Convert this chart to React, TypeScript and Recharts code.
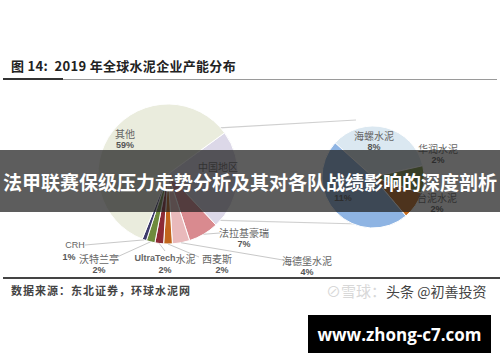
import { PieChart, Pie, Cell } from "recharts";

// 2019 global cement capacity share (%)
const LEFT_NAMES = ["中国地区", "法拉基豪瑞", "海德堡水泥", "西麦斯", "UltraTech水泥", "沃特兰亭", "CRH", "其他"];
const LEFT_VALUES = [23, 7, 4, 2, 2, 2, 1, 59];
const RIGHT_NAMES = ["海螺水泥", "华润水泥", "台泥水泥", "中国建材"];
const RIGHT_VALUES = [8, 2, 2, 11];

const LEFT_COLORS = ["#dcd8e8", "#d98a8f", "#e9b9bb", "#c2651c", "#8c2b36", "#6e8b3d", "#3d3a6b", "#eaecdd"];
const RIGHT_COLORS = ["#dbe8f1", "#76923c", "#c46a1c", "#8eb4e3"];

const W = 500;
const H = 362;
const L = { cx: 163, cy: 169, r: 70, start: 36 };
const R = { cx: 368, cy: 172, r: 51, start: 138 };

const GRAY = "#666";
const CJK = "'Noto Sans CJK SC', sans-serif";
const LAT = "'Liberation Sans', Arial, sans-serif";

// label placement (layout only). Texts hidden under the banner in the
// reference (name of the 11% slice, the 23% value) are left out.
type Place = {
  x: number;
  y: number;
  line?: [number, number];
  pctDx?: number;
  noName?: boolean;
  noPct?: boolean;
};
const PLACE: Record<string, Place> = {
  其他: { x: 125, y: 133 },
  中国地区: { x: 218, y: 166, noPct: true },
  法拉基豪瑞: { x: 244, y: 232, line: [220, 233] },
  海德堡水泥: { x: 307, y: 260, line: [283, 260] },
  西麦斯: { x: 217, y: 258, line: [199, 257], pctDx: 5 },
  UltraTech水泥: { x: 165, y: 258, line: [165, 251] },
  沃特兰亭: { x: 99, y: 258, line: [117, 257] },
  CRH: { x: 75, y: 245, line: [85, 245], pctDx: -6 },
  海螺水泥: { x: 374, y: 135 },
  华润水泥: { x: 438, y: 148 },
  台泥水泥: { x: 437, y: 197 },
  中国建材: { x: 343, y: 186, noName: true },
};

const RAD = Math.PI / 180;

function makeLabel(names: string[]) {
  return (p: any) => {
    const name = names[p.index];
    const pl = PLACE[name];
    if (!pl) return null;
    const edge = {
      x: p.cx + p.outerRadius * Math.cos(-p.midAngle * RAD),
      y: p.cy + p.outerRadius * Math.sin(-p.midAngle * RAD),
    };
    const isUltra = name.startsWith("Ultra");
    return (
      <g key={`lbl-${name}`}>
        {pl.line ? (
          <line x1={edge.x} y1={edge.y} x2={pl.line[0]} y2={pl.line[1]} stroke="#c8c8c8" strokeWidth={1} />
        ) : null}
        {pl.noName ? null : (
          <text
            x={pl.x}
            y={pl.y}
            textAnchor="middle"
            dominantBaseline="central"
            fontFamily={isUltra || name === "CRH" ? LAT : CJK}
            fontSize={name === "CRH" ? 9 : 10}
            fill={GRAY}
          >
            {isUltra ? (
              <>
                <tspan fontWeight={700} fontSize={9}>UltraTech</tspan>
                <tspan fontFamily={CJK}>水泥</tspan>
              </>
            ) : (
              name
            )}
          </text>
        )}
        {pl.noPct ? null : (
          <text
            x={pl.x + (pl.pctDx ?? 0)}
            y={pl.y + 12}
            textAnchor="middle"
            dominantBaseline="central"
            fontFamily={LAT}
            fontWeight={700}
            fontSize={9}
            fill="#555"
          >
            {`${p.value}%`}
          </text>
        )}
      </g>
    );
  };
}

const leftData = LEFT_NAMES.map((name, i) => ({ name, value: LEFT_VALUES[i] }));
const rightData = RIGHT_NAMES.map((name, i) => ({ name, value: RIGHT_VALUES[i] }));

function Connectors() {
  const total = LEFT_VALUES.reduce((a, b) => a + b, 0);
  const a0 = L.start;
  const a1 = L.start - (LEFT_VALUES[0] / total) * 360;
  const pt = (a: number) => ({ x: L.cx + L.r * Math.cos(a * RAD), y: L.cy - L.r * Math.sin(a * RAD) });
  const p0 = pt(a0);
  const p1 = pt(a1);
  return (
    <svg width={W} height={H} style={{ position: "absolute", left: 0, top: 0 }}>
      <line x1={p0.x} y1={p0.y} x2={R.cx - 12} y2={R.cy - R.r - 1} stroke="#d0d0d0" strokeWidth={1.2} />
      <line x1={p1.x} y1={p1.y} x2={R.cx - 8} y2={R.cy + R.r + 1} stroke="#d0d0d0" strokeWidth={1.2} />
    </svg>
  );
}

export default function App() {
  return (
    <div style={{ position: "fixed", left: 0, top: 0, width: W, height: H, background: "#fff", overflow: "hidden" }}>
      {/* title */}
      <div
        style={{
          position: "absolute",
          left: 11,
          top: 56,
          fontFamily: CJK,
          fontWeight: 700,
          fontSize: 13,
          color: "#222",
          whiteSpace: "nowrap",
          letterSpacing: 0.3,
        }}
      >
        图 14:&nbsp; 2019 年全球水泥企业产能分布
      </div>
      <div style={{ position: "absolute", left: 3, top: 79, width: 494, height: 1, background: "#9a9a9a" }} />
      <div style={{ position: "absolute", left: 3, top: 78, width: 60, height: 2, background: "#333" }} />

      <Connectors />

      <div style={{ position: "absolute", left: 0, top: 0 }}>
        <PieChart width={W} height={H}>
          <Pie
            data={leftData}
            dataKey="value"
            nameKey="name"
            cx={L.cx}
            cy={L.cy}
            outerRadius={L.r}
            startAngle={L.start}
            endAngle={L.start - 360}
            stroke="#fff"
            strokeWidth={1}
            label={makeLabel(LEFT_NAMES)}
            labelLine={false}
            isAnimationActive={false}
          >
            {leftData.map((d, i) => (
              <Cell key={d.name} fill={LEFT_COLORS[i]} />
            ))}
          </Pie>
          <Pie
            data={rightData}
            dataKey="value"
            nameKey="name"
            cx={R.cx}
            cy={R.cy}
            outerRadius={R.r}
            startAngle={R.start}
            endAngle={R.start - 360}
            stroke="#fff"
            strokeWidth={1}
            label={makeLabel(RIGHT_NAMES)}
            labelLine={false}
            isAnimationActive={false}
          >
            {rightData.map((d, i) => (
              <Cell key={d.name} fill={RIGHT_COLORS[i]} />
            ))}
          </Pie>
        </PieChart>
      </div>

      {/* footer */}
      <div style={{ position: "absolute", left: 3, top: 277, width: 497, height: 2, background: "#444" }} />
      <div
        style={{
          position: "absolute",
          left: 11,
          top: 282,
          fontFamily: CJK,
          fontWeight: 700,
          fontSize: 11,
          color: "#444",
          whiteSpace: "nowrap",
          letterSpacing: 1,
        }}
      >
        数据来源：东北证券，环球水泥网
      </div>
      <div
        style={{
          position: "absolute",
          left: 326,
          top: 280,
          fontFamily: CJK,
          fontSize: 15,
          whiteSpace: "nowrap",
          color: "#d8d8d8",
        }}
      >
        ⊘雪球：<span style={{ color: "#444", fontSize: 14 }}>头条 @初善投资</span>
      </div>

      {/* overlay banner */}
      <div
        style={{
          position: "absolute",
          left: 0,
          top: 150,
          width: W,
          height: 62,
          background: "rgba(30,30,30,0.72)",
          display: "flex",
          alignItems: "center",
          justifyContent: "center",
          fontFamily: CJK,
          fontWeight: 700,
          fontSize: 19,
          color: "#fff",
          whiteSpace: "nowrap",
        }}
      >
        法甲联赛保级压力走势分析及其对各队战绩影响的深度剖析
      </div>

      <div
        style={{
          position: "absolute",
          left: 308,
          top: 315,
          width: 183,
          height: 38,
          background: "#000",
          color: "#fff",
          fontFamily: "'Open Sans', 'Noto Sans', sans-serif",
          fontWeight: 700,
          fontSize: 17,
          whiteSpace: "nowrap",
          display: "flex",
          alignItems: "center",
          justifyContent: "center",
        }}
      >
        www.zhong-c7.com
      </div>
    </div>
  );
}
